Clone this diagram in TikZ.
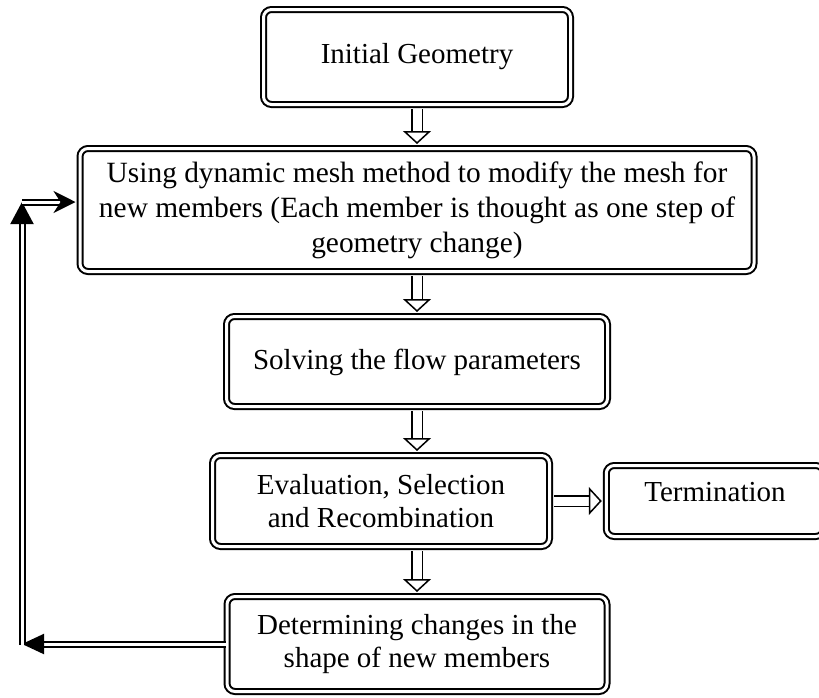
\documentclass[tikz,border=0pt]{standalone}
\usepackage{fontspec}
\setmainfont{Liberation Serif}
\usetikzlibrary{arrows.meta}

\tikzset{
  stagebox/.style={draw, double, line width=1pt, double distance=1.5pt, rounded corners=4pt,
    inner sep=0pt, align=center, font=\fontsize{14.5}{16.5}\selectfont},
  hollowarrow/.style={draw, double, line width=0.75pt, double distance=4.5pt,
    shorten <=1.75pt, shorten >=1.75pt, -{Triangle[open, length=6.5pt, width=14pt]}},
  loopline/.style={draw, double, line width=1pt, double distance=1.5pt}
}

\begin{document}
\begin{tikzpicture}[x=0.5pt,y=-0.5pt]
                \useasboundingbox (0,0) rectangle (819,697);
                \node[stagebox, minimum width=153.5pt, minimum height=47.5pt] (geom) at (417,57) {Initial Geometry};
                \node[stagebox, minimum width=337pt, minimum height=61.5pt, font=\fontsize{14.7}{17.5}\selectfont] (mesh) at (417,210)
                    {Using dynamic mesh method to modify the mesh for\\new members (Each member is thought as one step of\\geometry change)};
                \node[stagebox, minimum width=190.5pt, minimum height=45pt, text depth=2pt] (flow) at (417,361.5) {Solving the flow parameters};
                \node[stagebox, minimum width=168.5pt, minimum height=45.5pt] (evalbox) at (381,501) {Evaluation, Selection\\and Recombination};
                \node[stagebox, minimum width=108.75pt, minimum height=35.5pt, text depth=9pt] (term) at (715,501) {Termination};
                \node[stagebox, minimum width=190pt, minimum height=47.5pt] (shape) at (417,644) {Determining changes in the\\shape of new members};

                \draw[hollowarrow] (geom.south)--(mesh.north);
                \draw[hollowarrow] (mesh.south)--(flow.north);
                \draw[hollowarrow] (flow.south)--(flow.south |- evalbox.north);
                \draw[hollowarrow] (evalbox.south -| shape.north)--(shape.north);
                \draw[hollowarrow] (evalbox.east)--(term.west);

                \coordinate (lowturn) at (22,645);
                \coordinate (highturn) at (22,202);
                \draw[loopline,-{Triangle[length=11pt,width=10pt]}] (shape.west)--(shape.west -| lowturn);
                \draw[loopline,-{Triangle[length=11pt,width=11.5pt]}] (lowturn)--(highturn);
                \draw[loopline,-{Stealth[length=11pt,width=11pt,inset=3.5pt]},shorten >=1.75pt] (highturn)--(highturn -| mesh.west);
            \end{tikzpicture}
\end{document}
